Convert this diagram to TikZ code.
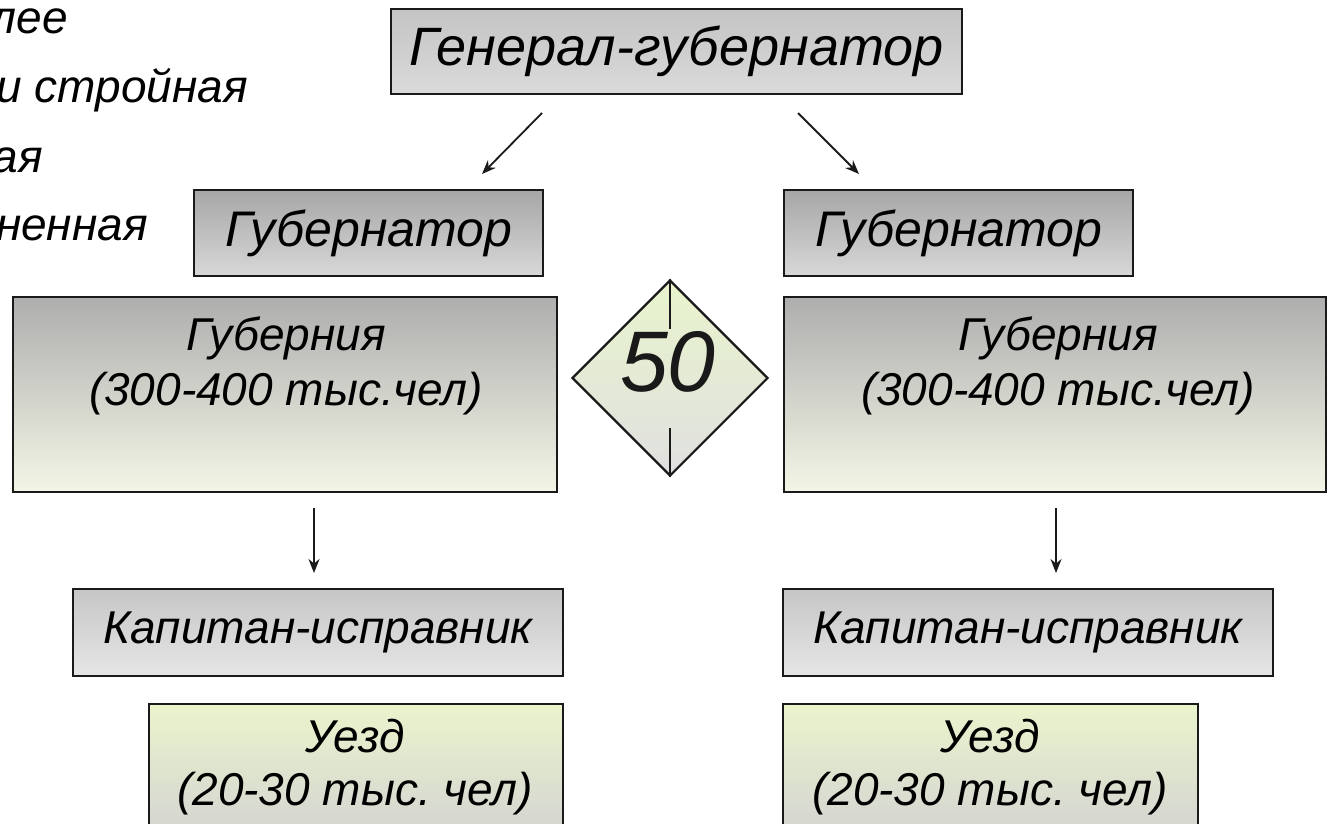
\documentclass[tikz,border=0pt]{standalone}
\usepackage{fontspec}
\setmainfont{Liberation Sans}
\frenchspacing
\usetikzlibrary{arrows.meta,shapes.geometric}
\definecolor{tT}{HTML}{C4C4C4}
\definecolor{tB}{HTML}{DADADA}
\definecolor{gT}{HTML}{A6A6A6}
\definecolor{gB}{HTML}{D8D8D8}
\definecolor{pT}{HTML}{AEAEAE}
\definecolor{pB}{HTML}{F3F6E6}
\definecolor{kT}{HTML}{C6C6C6}
\definecolor{kB}{HTML}{E6E6E6}
\definecolor{uT}{HTML}{EAF4CC}
\definecolor{uB}{HTML}{D2D2D2}
\definecolor{dT}{HTML}{E8F4CC}
\definecolor{dB}{HTML}{E0E0E0}
\definecolor{edge}{HTML}{1A1A1A}
\begin{document}
\begin{tikzpicture}[x=1pt,y=-1pt,
  bx/.style={draw=edge, line width=2.2pt, inner sep=0pt, anchor=north west},
  topbox/.style={bx, top color=tT, bottom color=tB},
  govbox/.style={bx, top color=gT, bottom color=gB},
  provbox/.style={bx, top color=pT, bottom color=pB},
  capbox/.style={bx, top color=kT, bottom color=kB},
  distbox/.style={bx, top color=uT, bottom color=uB},
  txt/.style={inner sep=0pt, align=center},
  side/.style={inner sep=0pt, anchor=base east, font=\itshape\fontsize{46}{52}\selectfont},
  arr/.style={draw=edge, line width=1.8pt, -{Stealth[length=14pt,width=11pt]}},
]
\useasboundingbox (0,0) rectangle (1327,824);
\clip (0,0) rectangle (1327,824);

% left partial text
\node[side] (s1) at (68,34) {лее};
\node[side] (s2) at (248,103) {и стройная};
\node[side] (s3) at (43,172) {ая};
\node[side] (s4) at (148,240) {ненная};

% top
\node[topbox, minimum width=571pt, minimum height=85pt,
      font=\itshape\fontsize{54}{60}\selectfont] (gg) at (390,8) {Генерал-губернатор};

% governors
\node[govbox, minimum width=349pt, minimum height=86pt,
      font=\itshape\fontsize{50}{56}\selectfont] (gl) at (193,189) {Губернатор};
\node[govbox, minimum width=349pt, minimum height=86pt,
      font=\itshape\fontsize{50}{56}\selectfont] (gr) at (783,189) {Губернатор};

% provinces
\node[provbox, minimum width=544pt, minimum height=195pt] (pl) at (12,296) {};
\node[provbox, minimum width=542pt, minimum height=195pt] (pr) at (783,296) {};
\node[txt, font=\itshape\fontsize{46}{55}\selectfont] (plt) at (286,366) {Губерния\\(300-400 тыс.чел)};
\node[txt, font=\itshape\fontsize{46}{55}\selectfont] (prt) at (1058,366) {Губерния\\(300-400 тыс.чел)};

% diamond
\node[diamond, draw=edge, line width=2.2pt, inner sep=0pt, minimum width=196pt, minimum height=196pt,
      top color=dT, bottom color=dB] (dm) at (670,378) {};
\draw[draw=edge, line width=2.2pt] (dm.north) -- ++(0,50);
\draw[draw=edge, line width=2.2pt] (dm.south) -- ++(0,-49);
\node[txt, font=\itshape\fontsize{86}{90}\selectfont, text=black!90] (fifty) at (668,362) {50};

% captains
\node[capbox, minimum width=490pt, minimum height=87pt,
      font=\itshape\fontsize{46}{52}\selectfont] (kl) at (72,588) {Капитан-исправник};
\node[capbox, minimum width=490pt, minimum height=87pt,
      font=\itshape\fontsize{46}{52}\selectfont] (kr) at (782,588) {Капитан-исправник};

% districts
\node[distbox, minimum width=414pt, minimum height=140pt] (ul) at (148,703) {};
\node[distbox, minimum width=415pt, minimum height=140pt] (ur) at (782,703) {};
\node[txt, font=\itshape\fontsize{46}{53}\selectfont] (ult) at (355,767) {Уезд\\(20-30 тыс. чел)};
\node[txt, font=\itshape\fontsize{46}{53}\selectfont] (urt) at (990,767) {Уезд\\(20-30 тыс. чел)};

% arrows
\coordinate (a1s) at (542,113);
\coordinate (a1e) at (482,174);
\coordinate (a2s) at (798,113);
\coordinate (a2e) at (859,174);
\coordinate (a3s) at (314,508);
\coordinate (a3e) at (314,573);
\coordinate (a4s) at (1056,508);
\coordinate (a4e) at (1056,573);
\draw[arr] (a1s) -- (a1e);
\draw[arr] (a2s) -- (a2e);
\draw[arr] (a3s) -- (a3e);
\draw[arr] (a4s) -- (a4e);
\end{tikzpicture}
\end{document}
